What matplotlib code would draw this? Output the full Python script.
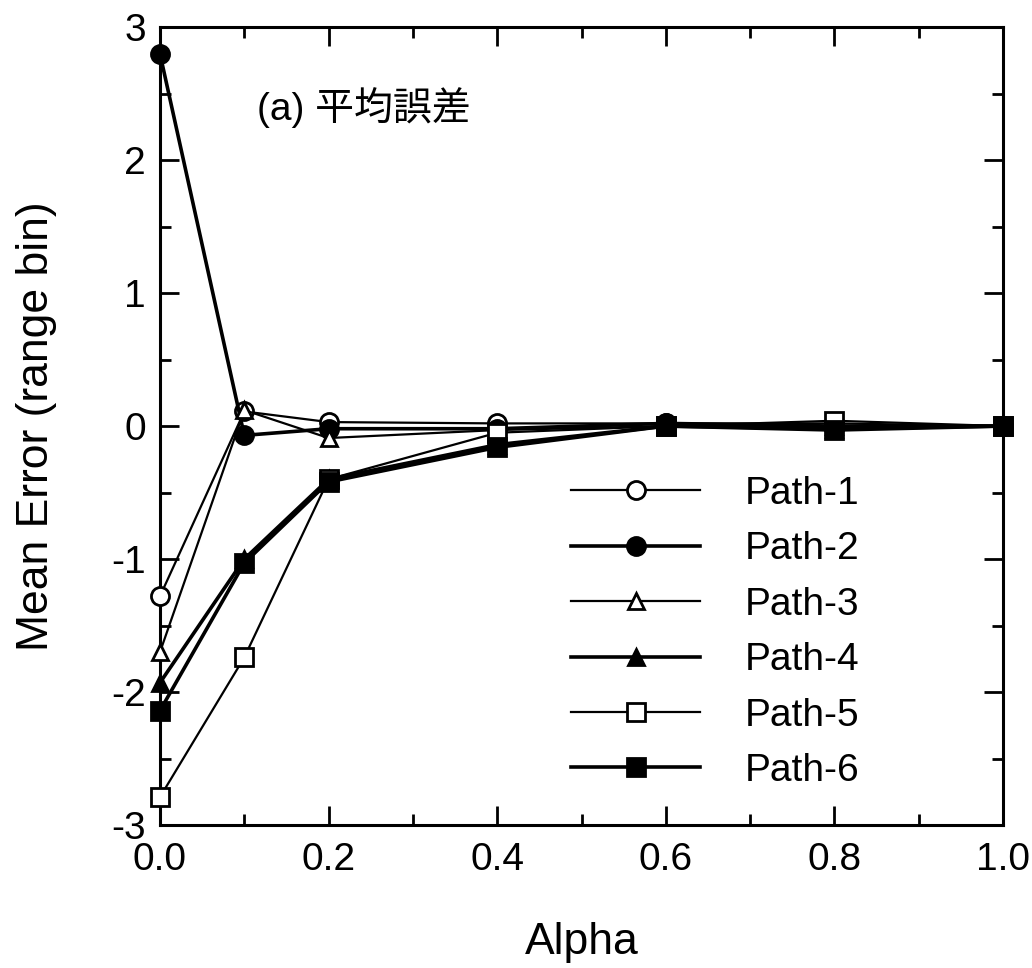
import matplotlib
matplotlib.use("Agg")
import matplotlib.pyplot as plt
from matplotlib.ticker import MultipleLocator, FormatStrFormatter

alpha = [0.0, 0.1, 0.2, 0.4, 0.6, 0.8, 1.0]
path1 = [-1.28, 0.11, 0.03, 0.02, 0.02, 0.02, 0.0]
path2 = [2.80, -0.07, -0.02, -0.02, 0.02, 0.0, 0.0]
path3 = [-1.70, 0.12, -0.09, -0.03, 0.0, 0.0, 0.0]
path4 = [-1.93, -1.00, -0.40, -0.14, 0.0, -0.02, 0.0]
path5 = [-2.79, -1.74, -0.40, -0.05, 0.0, 0.04, 0.0]
path6 = [-2.14, -1.03, -0.42, -0.16, 0.0, -0.03, 0.0]
labels = ["Path-1", "Path-2", "Path-3", "Path-4", "Path-5", "Path-6"]
title_text = "(a) 平均誤差"

plt.rcParams['font.family'] = ['Liberation Sans', 'Noto Sans CJK JP', 'DejaVu Sans']

fig = plt.figure(figsize=(10.32, 9.68), dpi=100)
ax = fig.add_axes([0.155, 0.1477, 0.817, 0.8243])

series = [path1, path2, path3, path4, path5, path6]
markers = ['o', 'o', '^', '^', 's', 's']
filled = [False, True, False, True, False, True]
lws = [1.6, 2.6, 1.6, 2.6, 1.6, 2.6]
msizes = [13, 13, 12, 12, 13, 13]

for ys, lab, mk, fl, lw, ms in zip(series, labels, markers, filled, lws, msizes):
    ax.plot(alpha, ys, color='black', lw=lw, marker=mk, ms=ms,
            markerfacecolor='black' if fl else 'white',
            markeredgecolor='black', markeredgewidth=2.0,
            label=lab, clip_on=False, zorder=3)

ax.set_xlim(0, 1.0)
ax.set_ylim(-3, 3)
ax.xaxis.set_major_locator(MultipleLocator(0.2))
ax.xaxis.set_minor_locator(MultipleLocator(0.1))
ax.yaxis.set_major_locator(MultipleLocator(1))
ax.yaxis.set_minor_locator(MultipleLocator(0.5))
ax.xaxis.set_major_formatter(FormatStrFormatter('%.1f'))
ax.yaxis.set_major_formatter(FormatStrFormatter('%d'))

ax.tick_params(which='both', direction='in', top=True, right=True, width=2, labelsize=28)
ax.tick_params(which='major', length=14)
ax.tick_params(which='minor', length=8)
ax.tick_params(axis='x', which='major', pad=12)
ax.tick_params(axis='y', which='major', pad=10)
for s in ax.spines.values():
    s.set_linewidth(2.2)

ax.set_xlabel("Alpha", fontsize=32, labelpad=32)
ax.set_ylabel("Mean Error (range bin)", fontsize=32, labelpad=39)

ax.text(0.115, 0.899, title_text, transform=ax.transAxes, fontsize=28,
        ha='left', va='center')

leg = ax.legend(loc='upper left', bbox_to_anchor=(0.465, 0.462), frameon=False,
                fontsize=28, handlelength=3.3, handletextpad=1.15,
                labelspacing=0.5, borderpad=0)

fig.savefig("out.png", dpi=100, facecolor='white')
